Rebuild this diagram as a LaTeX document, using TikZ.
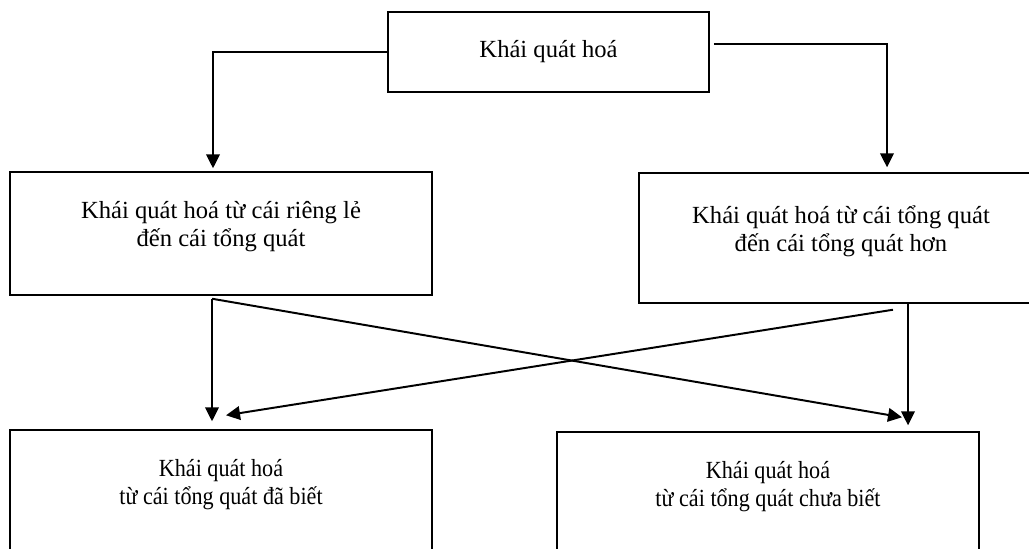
\documentclass[tikz,border=0pt]{standalone}
\usepackage{fontspec}
\setmainfont{Liberation Serif}
\newfontfamily\narrowserif[FakeStretch=0.9]{Liberation Serif}
\usetikzlibrary{arrows.meta,positioning}

\begin{document}
\begin{tikzpicture}[x=0.025cm,y=-0.025cm,
  every node/.style={font=\fontsize{17.5pt}{19.9pt}\selectfont},
  box/.style={draw,line width=1pt,align=center,inner sep=0pt},
  flow/.style={line width=1.4pt,-{Triangle[length=0.35cm,width=0.34cm]}}]
  \tikzstyle{narrow} = [font=\narrowserif\fontsize{17.5pt}{19.9pt}\selectfont]
  \useasboundingbox (0,0) rectangle (1029,548);
  % boxes
  \node (kq) [box,minimum width=8.025cm,minimum height=2cm] at (548.5,52) {Khái quát hoá};
  \node (kq_rieng) [box,minimum width=10.55cm,minimum height=3.075cm] at (221,233.5)
    {Khái quát hoá từ cái riêng lẻ\\đến cái tổng quát\\[-6pt]};
  \node (kq_tq) [box,minimum width=10.1cm,minimum height=3.25cm] at (841,238)
    {Khái quát hoá từ cái tổng quát\\đến cái tổng quát hơn\\[-6pt]};
  \node (kq_dabiet) [box,narrow,minimum width=10.55cm,minimum height=3.1cm] at (221,492)
    {Khái quát hoá\\từ cái tổng quát đã biết\\[-6pt]};
  \node (kq_chuabiet) [box,narrow,minimum width=10.55cm,minimum height=3.1cm] at (768,494)
    {Khái quát hoá\\từ cái tổng quát chưa biết\\[-6pt]};
  % connectors
  \draw[flow] (kq.west) -| ([shift={(-8,-3)}]kq_rieng.north);
  \draw[flow] ([shift={(4,-8)}]kq.east) -| ([shift={(46,-5)}]kq_tq.north);
  \draw[flow] ([shift={(-9,3)}]kq_rieng.south) -- ([shift={(-9,-8)}]kq_dabiet.north);
  \draw[flow] ([shift={(-9,3)}]kq_rieng.south) -- ([shift={(134,-14)}]kq_chuabiet.north);
  \draw[flow] ([shift={(67,0)}]kq_tq.south) -- ([shift={(140,-6)}]kq_chuabiet.north);
  \draw[flow] ([shift={(52,6)}]kq_tq.south) -- ([shift={(5,-14)}]kq_dabiet.north);
\end{tikzpicture}
\end{document}
